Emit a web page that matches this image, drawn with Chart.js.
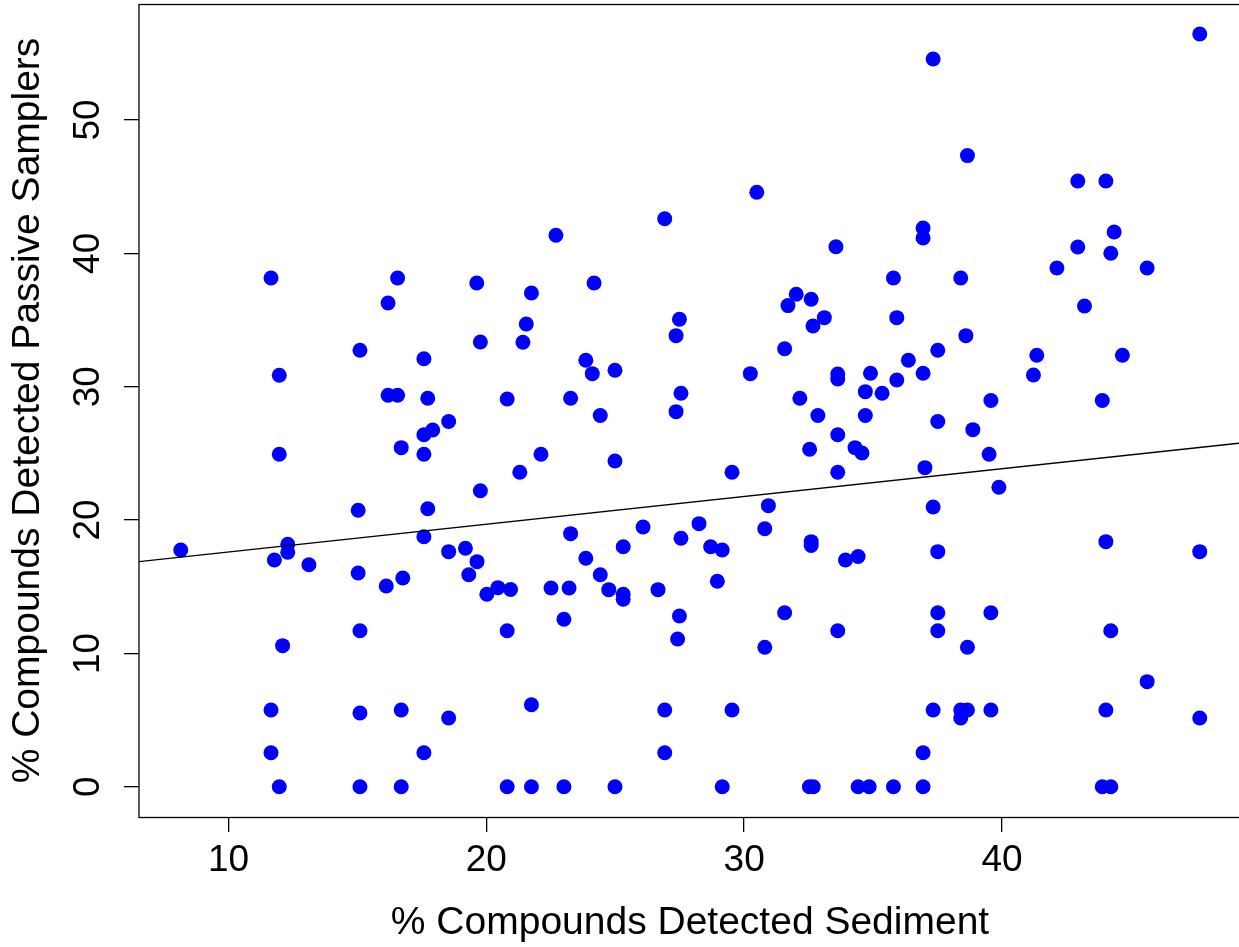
<!DOCTYPE html>
<html>
<head>
<meta charset="utf-8">
<script src="https://cdn.jsdelivr.net/npm/chart.js@4/dist/chart.umd.min.js"></script>
<style>
  html, body { margin: 0; padding: 0; background: #fff; overflow: hidden; }
  canvas { display: block; }
</style>
</head>
<body>
<canvas id="scatter" width="1242" height="947"></canvas>
<script>
// % compounds detected in sediment (x) and in passive samplers (y), one entry per site/sample
const sedimentPct = [
  11.65, 16.56, 19.63, 16.19, 15.10, 19.77, 17.58, 11.97, 16.19, 16.56,
  17.73, 18.54, 17.58, 17.92, 16.70, 11.97, 17.58, 19.77, 15.03, 17.73,
  8.15, 12.30, 12.30, 11.78, 13.12, 17.58, 18.54, 19.19, 19.64, 15.03,
  16.12, 16.76, 19.32, 20.02, 20.45, 15.10, 12.10, 11.65, 15.10, 16.70,
  18.54, 11.65, 17.58, 11.97, 15.10, 16.70,
  20.81, 20.81, 20.81, 20.94, 30.49, 26.92, 22.70, 33.56, 24.18, 21.75,
  21.55, 21.42, 27.49, 27.36, 32.02, 31.70, 32.60, 33.11, 32.67, 31.57,
  23.86, 24.11, 24.99, 30.24, 33.63, 33.63, 23.27, 27.55, 32.16, 24.42,
  27.36, 32.86, 33.63, 32.54, 34.30, 22.12, 21.30, 24.99, 29.53, 33.63,
  30.94, 23.27, 26.08, 27.55, 28.25, 30.80, 25.31, 23.86, 28.70, 29.15,
  32.60, 32.60, 33.93, 24.42, 22.51, 23.21, 24.75, 25.31, 25.31, 26.66,
  28.96, 23.01, 27.49, 27.42, 31.57, 30.80, 33.63, 21.75, 26.92, 29.53,
  26.92, 21.75, 23.01, 24.99, 29.15, 32.53, 32.68,
  34.42, 34.57, 34.90, 34.70, 34.70, 34.42, 34.85, 47.67, 37.33, 38.66,
  42.94, 44.03, 36.94, 36.94, 44.35, 42.94, 44.22, 35.79, 38.40, 42.13,
  45.63, 43.20, 35.92, 38.60, 37.51, 36.37, 35.92, 36.94, 35.35, 41.35,
  41.22, 44.67, 39.57, 43.89, 37.51, 38.87, 39.50, 37.01, 39.88, 37.33,
  37.51, 44.03, 47.67, 37.51, 37.51, 39.57, 38.66, 44.22, 45.63, 37.33,
  38.40, 38.66, 38.40, 39.57, 44.03, 47.67, 36.94, 35.79, 36.94, 43.89,
  44.22
];
const samplerPct = [
  38.15, 38.15, 37.78, 36.28, 32.73, 33.35, 32.10, 30.86, 29.36, 29.36,
  29.13, 27.39, 26.40, 26.75, 25.43, 24.93, 24.93, 22.20, 20.73, 20.85,
  17.75, 18.18, 17.58, 17.00, 16.65, 18.75, 17.63, 17.88, 16.88, 16.03,
  15.05, 15.65, 15.90, 14.43, 14.93, 11.70, 10.58, 5.75, 5.53, 5.75,
  5.15, 2.55, 2.55, 0, 0, 0,
  29.08, 11.70, 0, 14.79, 44.58, 42.60, 41.36, 40.50, 37.78, 37.03,
  34.70, 33.33, 35.06, 33.83, 36.93, 36.08, 36.56, 35.18, 34.55, 32.85,
  31.98, 30.98, 31.23, 30.98, 30.95, 30.58, 29.13, 29.51, 29.13, 27.84,
  28.13, 27.84, 26.40, 25.31, 25.43, 24.93, 23.58, 24.43, 23.58, 23.58,
  21.08, 18.98, 19.48, 18.63, 19.73, 19.35, 18.00, 17.13, 18.00, 17.75,
  18.38, 18.09, 17.00, 15.90, 14.90, 14.90, 14.78, 14.43, 14.06, 14.78,
  15.41, 12.56, 12.80, 11.08, 13.05, 10.46, 11.70, 6.15, 5.75, 5.75,
  2.55, 0, 0, 0, 0, 0, 0,
  17.27, 25.03, 31.01, 29.63, 27.84, 0, 0, 56.45, 54.58, 47.33,
  45.43, 45.43, 41.90, 41.15, 41.60, 40.48, 40.01, 38.15, 38.15, 38.90,
  38.90, 36.05, 35.18, 33.83, 32.73, 31.98, 30.50, 31.01, 29.51, 32.36,
  30.88, 32.36, 28.97, 28.97, 27.39, 26.78, 24.93, 23.93, 22.46, 20.98,
  17.63, 18.38, 17.63, 13.05, 11.70, 13.05, 10.46, 11.70, 7.88, 5.75,
  5.75, 5.75, 5.15, 5.75, 5.75, 5.15, 2.55, 0, 0, 0,
  0
];

const xTicks = [10, 20, 30, 40];
const yTicks = [0, 10, 20, 30, 40, 50];

// fitted line
const fitIntercept = 15.52;
const fitSlope = 0.2082;

const xMin = 6.53, xMax = 49.27;
const yMin = -2.27, yMax = 58.70;

const points = sedimentPct.map((x, i) => ({ x: x, y: samplerPct[i] }));
const fitLine = [xMin, xMax].map(x => ({ x: x, y: fitIntercept + fitSlope * x }));

// box around the plot region
const boxPlugin = {
  id: "box",
  afterDraw(chart) {
    const a = chart.chartArea, ctx = chart.ctx;
    ctx.save();
    ctx.strokeStyle = "#000";
    ctx.lineWidth = 1.3;
    ctx.strokeRect(Math.round(a.left), Math.round(a.top) + 0.5, Math.round(a.right - a.left), Math.round(a.bottom - a.top));
    ctx.restore();
  }
};

const tickFont = { family: "'Liberation Sans', Arial, sans-serif", size: 37 };
const titleFont = { family: "'Liberation Sans', Arial, sans-serif", size: 39 };

new Chart(document.getElementById("scatter"), {
  type: "scatter",
  data: {
    datasets: [
      {
        label: "fit",
        data: fitLine,
        showLine: true,
        borderColor: "#000",
        borderWidth: 1.3,
        pointRadius: 0,
        fill: false
      },
      {
        label: "samples",
        data: points,
        backgroundColor: "#0000ff",
        borderWidth: 0,
        pointRadius: 7.5,
        pointHoverRadius: 7.5
      }
    ]
  },
  options: {
    responsive: false,
    devicePixelRatio: 1,
    animation: false,
    layout: { autoPadding: false, padding: { top: 4, right: 1, bottom: 0, left: 0 } },
    plugins: { legend: { display: false }, tooltip: { enabled: false } },
    scales: {
      x: {
        type: "linear",
        position: "bottom",
        min: xMin,
        max: xMax,
        afterBuildTicks: s => { s.ticks = xTicks.map(v => ({ value: v })); },
        afterFit: s => { s.height = 130; s.paddingLeft = 0; s.paddingRight = 0; },
        grid: { drawOnChartArea: false, drawTicks: true, tickLength: 15, color: "#000", lineWidth: 1.3 },
        border: { display: false },
        ticks: { color: "#000", font: tickFont, padding: 7, maxRotation: 0, autoSkip: false },
        title: { display: true, text: "% Compounds Detected Sediment", color: "#000", font: titleFont, padding: { top: 0, bottom: 0 } }
      },
      y: {
        type: "linear",
        min: yMin,
        max: yMax,
        afterBuildTicks: s => { s.ticks = yTicks.map(v => ({ value: v })); },
        afterFit: s => { s.width = 139; s.paddingTop = 0; s.paddingBottom = 0; },
        grid: { drawOnChartArea: false, drawTicks: true, tickLength: 15, color: "#000", lineWidth: 1.3 },
        border: { display: false },
        ticks: { color: "#000", font: tickFont, padding: 15, minRotation: 90, maxRotation: 90, crossAlign: "center", autoSkip: false },
        title: { display: true, text: "% Compounds Detected Passive Samplers", color: "#000", font: titleFont, padding: { top: 5, bottom: 0 } }
      }
    }
  },
  plugins: [boxPlugin]
});
</script>
</body>
</html>
